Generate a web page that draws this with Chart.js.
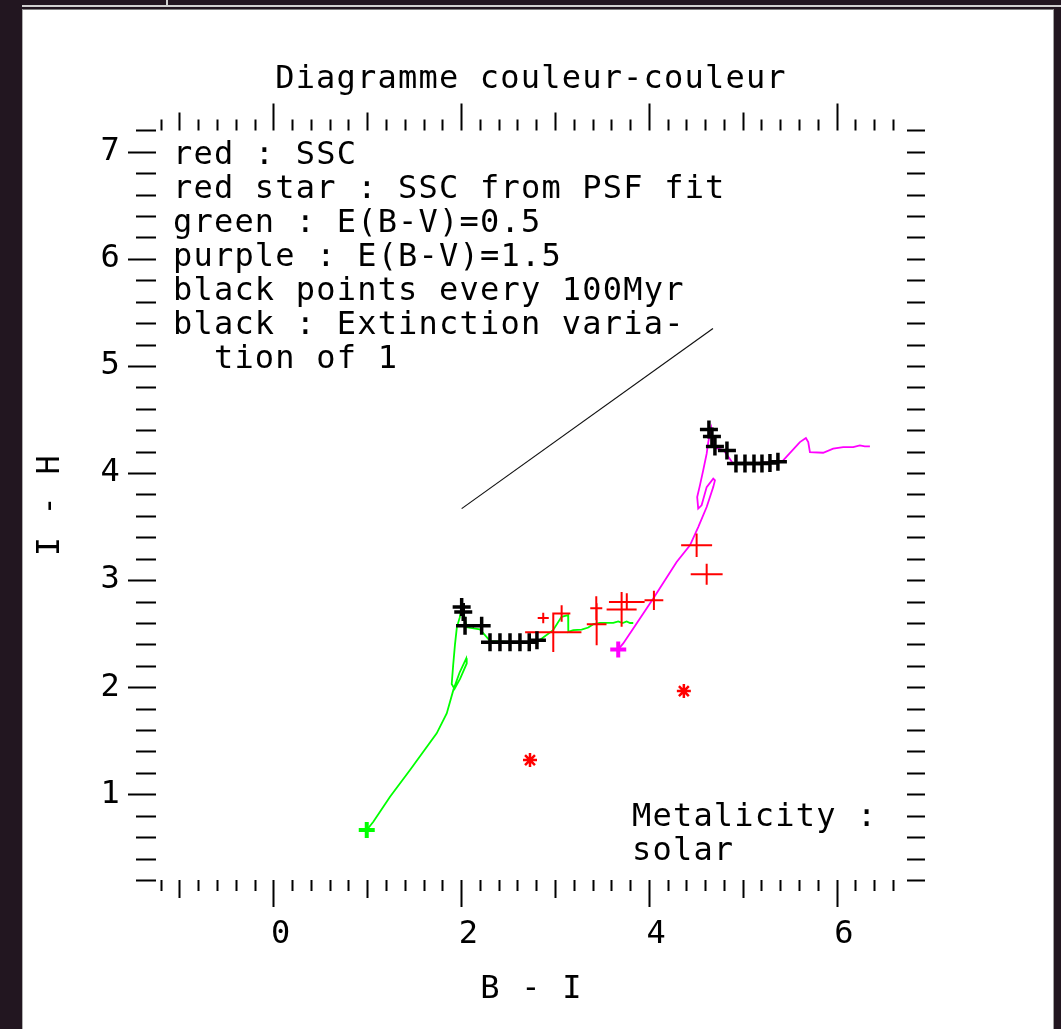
<!DOCTYPE html>
<html>
<head>
<meta charset="utf-8">
<script src="https://cdn.jsdelivr.net/npm/chart.js@4.4.1/dist/chart.umd.min.js"></script>
<style>
  html, body { margin: 0; padding: 0; width: 1061px; height: 1029px; overflow: hidden; background: #221620; }
  #topline { position: absolute; left: 22px; top: 5px; width: 1039px; height: 2px; background: #d0d0d0; }
  #notch { position: absolute; left: 166px; top: 0; width: 2px; height: 6px; background: #d0d0d0; }
  #panel { position: absolute; left: 22px; top: 9px; width: 1030px; height: 1019px; background: #fff;
           border-left: 1px solid #b0b0b0; border-top: 1px solid #808080; border-right: 1px solid #a0a0a0; }
  canvas { display: block; }
</style>
</head>
<body>
<div id="topline"></div>
<div id="notch"></div>
<div id="panel"><canvas id="ccChart" width="1030" height="1019"></canvas></div>
<script>
// Limites des axes
const xMin = -1.25, xMax = 6.75;
const yMin = 0.2, yMax = 7.2;

// Graduations avec texte
const xTickValues = [0, 2, 4, 6];
const xTickLabels = ['0', '2', '4', '6'];
const yTickValues = [1, 2, 3, 4, 5, 6, 7];
const yTickLabels = ['1', '2', '3', '4', '5', '6', '7'];

// Trace verte : E(B-V)=0.5
const greenX = [0.995, 1.065, 1.243, 1.456, 1.740, 1.847, 1.917, 1.985, 2.055, 2.060, 1.990, 1.930, 1.900, 1.915,
                1.935, 1.955, 1.985, 2.005, 2.030, 2.060, 2.200, 2.310, 2.560, 2.810, 2.860, 2.980, 3.070, 3.140,
                3.142, 3.195, 3.284, 3.355, 3.408, 3.479, 3.621, 3.674, 3.720, 3.764, 3.800, 3.834];
const greenY = [0.667, 0.744, 0.978, 1.227, 1.569, 1.756, 1.973, 2.140, 2.270, 2.222, 2.080, 1.985, 2.030, 2.200,
                2.400, 2.560, 2.650, 2.740, 2.680, 2.560, 2.540, 2.430, 2.420, 2.425, 2.455, 2.533, 2.657, 2.673,
                2.517, 2.533, 2.539, 2.558, 2.589, 2.601, 2.601, 2.615, 2.600, 2.615, 2.600, 2.600];

// Points noirs tous les 100 Myr sur la trace verte
const greenAgeX = [2.006, 2.023, 2.042, 2.219, 2.308, 2.414, 2.521, 2.627, 2.726, 2.808];
const greenAgeY = [2.750, 2.703, 2.575, 2.575, 2.420, 2.420, 2.420, 2.420, 2.420, 2.440];

// Trace violette : E(B-V)=1.5
const purpleX = [3.674, 3.727, 3.834, 4.047, 4.296, 4.438, 4.526, 4.616, 4.686, 4.704, 4.686, 4.616, 4.562, 4.526,
                 4.515, 4.544, 4.579, 4.616, 4.633, 4.651, 4.665, 4.693, 4.799, 4.896, 5.150, 5.414, 5.609, 5.673,
                 5.698, 5.716, 5.857, 5.964, 6.070, 6.177, 6.248, 6.300, 6.355];
const purpleY = [2.353, 2.409, 2.549, 2.828, 3.170, 3.326, 3.496, 3.683, 3.869, 3.932, 3.948, 3.869, 3.699, 3.668,
                 3.776, 3.885, 4.025, 4.181, 4.289, 4.368, 4.420, 4.240, 4.212, 4.090, 4.095, 4.103, 4.289, 4.327,
                 4.289, 4.196, 4.190, 4.228, 4.243, 4.243, 4.258, 4.250, 4.250];

// Points noirs tous les 100 Myr sur la trace violette
const purpleAgeX = [4.640, 4.672, 4.704, 4.832, 4.928, 5.024, 5.120, 5.205, 5.290, 5.375];
const purpleAgeY = [4.407, 4.341, 4.248, 4.210, 4.089, 4.089, 4.089, 4.089, 4.095, 4.105];

// Vecteur d'extinction (variation de 1)
const extX = [2.006, 4.683];
const extY = [3.668, 5.350];

// SSC (rouge) avec barres d'erreur
const sscX    = [2.875, 3.071, 2.982, 3.440, 3.444, 3.710, 3.765, 4.054, 4.509, 4.616];
const sscY    = [2.647, 2.688, 2.514, 2.738, 2.589, 2.727, 2.797, 2.812, 3.326, 3.055];
const sscXErr = [0.059, 0.093, 0.300, 0.064, 0.105, 0.160, 0.190, 0.100, 0.165, 0.170];
const sscYErr = [0.049, 0.077, 0.184, 0.112, 0.196, 0.163, 0.080, 0.090, 0.109, 0.098];

// SSC issus du fit PSF (étoiles rouges)
const psfX = [2.734, 4.373];
const psfY = [1.320, 1.964];

// Textes dans le graphe
const legendLines = [
    'red : SSC',
    'red star : SSC from PSF fit',
    'green : E(B-V)=0.5',
    'purple : E(B-V)=1.5',
    'black points every 100Myr',
    'black : Extinction varia-',
    '  tion of 1'
];
const metalLines = ['Metalicity :', 'solar'];

const FONT = "'DejaVu Sans Mono', monospace";
const FSIZE = 32;
const SPACING = '1.2px';

function toPoints(xs, ys) {
    return xs.map((x, i) => ({ x: x, y: ys[i] }));
}

// Croix d'erreur : segment horizontal puis vertical, séparés par des trous
function errorSegments() {
    const pts = [];
    sscX.forEach((x, i) => {
        const y = sscY[i];
        pts.push({ x: x - sscXErr[i], y: y }, { x: x + sscXErr[i], y: y }, { x: null, y: null });
        pts.push({ x: x, y: y - sscYErr[i] }, { x: x, y: y + sscYErr[i] }, { x: null, y: null });
    });
    return pts;
}

function tickList(min, max) {
    const vals = [];
    for (let i = Math.ceil(min * 5); i <= Math.floor(max * 5); i++) vals.push(i / 5);
    return vals;
}

// Graduations (style IDL) et textes libres
const idlFrame = {
    id: 'idlFrame',
    beforeDraw(chart) {
        chart.ctx.letterSpacing = SPACING;
    },
    afterDraw(chart) {
        const { ctx, chartArea: a, scales: { x, y } } = chart;
        ctx.save();
        ctx.strokeStyle = '#000';
        ctx.lineWidth = 2;
        ctx.beginPath();
        x.ticks.forEach(t => {
            const px = Math.round(x.getPixelForValue(t.value)) + 0.5;
            const v = Math.round(t.value * 5);
            const len = v % 10 === 0 ? 27 : (v % 5 === 0 ? 18 : 11);
            ctx.moveTo(px, a.bottom); ctx.lineTo(px, a.bottom + len);
            ctx.moveTo(px, a.top); ctx.lineTo(px, a.top - len);
        });
        y.ticks.forEach(t => {
            const py = Math.round(y.getPixelForValue(t.value)) + 0.5;
            const major = Math.round(t.value * 5) % 5 === 0;
            ctx.moveTo(a.left, py); ctx.lineTo(a.left - (major ? 28 : 20), py);
            ctx.moveTo(a.right, py); ctx.lineTo(a.right + 18, py);
        });
        ctx.stroke();

        ctx.fillStyle = '#000';
        ctx.font = FSIZE + 'px ' + FONT;
        ctx.textAlign = 'left';
        ctx.textBaseline = 'middle';
        legendLines.forEach((s, i) => ctx.fillText(s, a.left + 17, a.top + 25 + i * 34));
        metalLines.forEach((s, i) => ctx.fillText(s, a.left + 476, a.top + 687 + i * 34));
        ctx.restore();
    }
};

const axisFont = { family: FONT, size: FSIZE, weight: 'normal', lineHeight: 1.2 };
const ctx = document.getElementById('ccChart').getContext('2d');

new Chart(ctx, {
    type: 'scatter',
    data: {
        datasets: [
            { // points noirs (trace violette)
                data: toPoints(purpleAgeX, purpleAgeY),
                pointStyle: 'cross', pointRadius: 9, borderColor: '#000', borderWidth: 3.5
            },
            { // points noirs (trace verte)
                data: toPoints(greenAgeX, greenAgeY),
                pointStyle: 'cross', pointRadius: 9, borderColor: '#000', borderWidth: 3.5
            },
            { // étoiles rouges
                data: toPoints(psfX, psfY),
                pointStyle: 'star', pointRadius: 7, borderColor: '#ff0000', borderWidth: 2.5
            },
            { // croix rouges
                data: errorSegments(),
                showLine: true, spanGaps: false, pointRadius: 0,
                borderColor: '#ff0000', borderWidth: 2
            },
            { // départ violet
                data: [{ x: purpleX[0], y: purpleY[0] }],
                pointStyle: 'cross', pointRadius: 8, borderColor: '#ff00ff', borderWidth: 4
            },
            { // départ vert
                data: [{ x: greenX[0], y: greenY[0] }],
                pointStyle: 'cross', pointRadius: 8, borderColor: '#00ff00', borderWidth: 4
            },
            { // trace violette
                data: toPoints(purpleX, purpleY),
                showLine: true, pointRadius: 0, borderColor: '#ff00ff', borderWidth: 1.8
            },
            { // trace verte
                data: toPoints(greenX, greenY),
                showLine: true, pointRadius: 0, borderColor: '#00ff00', borderWidth: 1.8
            },
            { // vecteur d'extinction
                data: toPoints(extX, extY),
                showLine: true, pointRadius: 0, borderColor: '#111', borderWidth: 1.2
            }
        ]
    },
    options: {
        responsive: false,
        animation: false,
        devicePixelRatio: 1,
        layout: { padding: { left: 0, right: 14, top: 0, bottom: 0 } },
        plugins: {
            legend: { display: false },
            tooltip: { enabled: false },
            title: {
                display: true,
                text: 'Diagramme couleur-couleur',
                color: '#000',
                font: axisFont,
                padding: { top: 50, bottom: 32 }
            }
        },
        scales: {
            x: {
                type: 'linear', min: xMin, max: xMax,
                grid: { display: false, drawTicks: false },
                border: { display: false },
                afterBuildTicks: s => { s.ticks = tickList(xMin, xMax).map(v => ({ value: v })); },
                afterFit: s => { s.height = 149; },
                ticks: {
                    autoSkip: false, maxRotation: 0, padding: 35, labelOffset: 8, color: '#000',
                    font: axisFont,
                    callback: v => {
                        const i = xTickValues.indexOf(Math.round(v * 100) / 100);
                        return i >= 0 ? xTickLabels[i] : '';
                    }
                },
                title: {
                    display: true, text: 'B - I', color: '#000',
                    font: axisFont,
                    padding: { top: 0, bottom: 20 }
                }
            },
            y: {
                type: 'linear', min: yMin, max: yMax,
                grid: { display: false, drawTicks: false },
                border: { display: false },
                afterBuildTicks: s => { s.ticks = tickList(yMin, yMax).map(v => ({ value: v })); },
                afterFit: s => { s.width = 133; },
                ticks: {
                    autoSkip: false, padding: 35, color: '#000',
                    font: axisFont,
                    callback: v => {
                        const i = yTickValues.indexOf(Math.round(v * 100) / 100);
                        return i >= 0 ? yTickLabels[i] : '';
                    }
                },
                title: {
                    display: true, text: 'I - H', color: '#000',
                    font: axisFont,
                    padding: { top: 8, bottom: 0 }
                }
            },
            // axe de droite vide, réserve la marge
            y2: {
                type: 'linear', position: 'right', min: yMin, max: yMax,
                grid: { display: false, drawTicks: false },
                border: { display: false },
                ticks: { display: false },
                afterFit: s => { s.width = 132; }
            }
        }
    },
    plugins: [idlFrame]
});
</script>
</body>
</html>
